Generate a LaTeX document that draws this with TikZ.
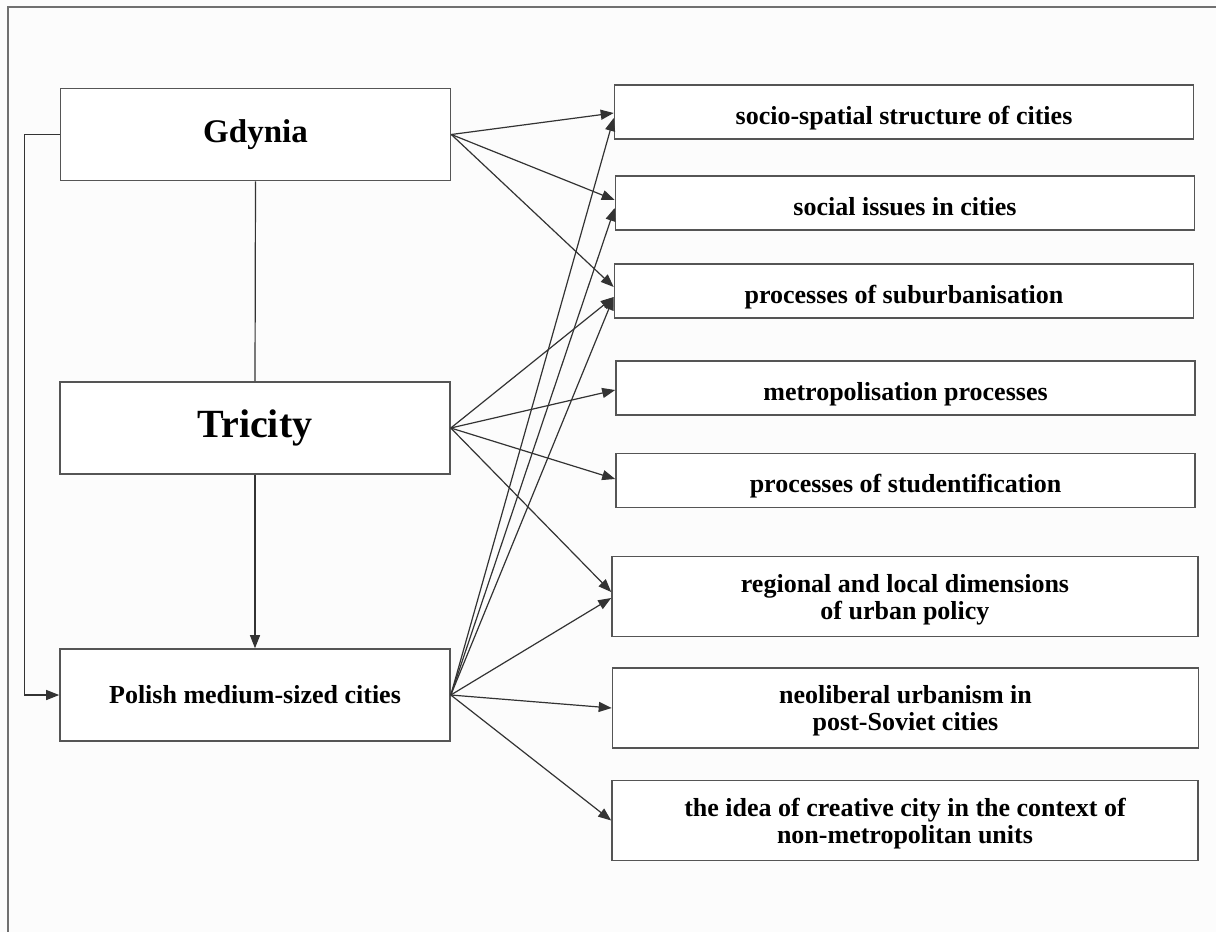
\documentclass[tikz,border=0pt]{standalone}
\usepackage{fontspec}
\setmainfont{Liberation Serif}
\usetikzlibrary{arrows.meta,calc}
\definecolor{framegray}{HTML}{707070}
\definecolor{boxgray}{HTML}{555555}
\definecolor{linkgray}{HTML}{333333}
\definecolor{paper}{HTML}{FCFCFC}
\begin{document}
\begin{tikzpicture}[x=0.5pt,y=-0.5pt,
    place/.style={draw=boxgray,line width=0.8pt,fill=white,inner sep=0pt,
      minimum width=195pt,minimum height=46pt,text=black},
    topic/.style={place,text depth=0pt,align=center,minimum height=27pt,minimum width=289.5pt,
      font=\bfseries\fontsize{13}{13.5}\selectfont},
    oneline/.style={text height=12pt},
    wide/.style={minimum height=40pt,minimum width=293pt},
    link/.style={-{Triangle[length=6.5pt,width=5pt]},linkgray,line width=0.6pt}]
    \fill[paper] (0,0) rectangle (1216,932);
    \useasboundingbox (0,0) rectangle (1216,932);
    \draw[framegray,line width=1pt] (8,932) -- (8,7) -- (1216,7);
    % left column
    \node[place,font=\bfseries\fontsize{16.5}{20}\selectfont] (gdynia) at (255.5,134.5) {Gdynia};
    \node[place,font=\bfseries\fontsize{20}{24}\selectfont] (tricity) at (255,428) {Tricity};
    \node[place,font=\bfseries\fontsize{13}{15}\selectfont] (polish) at (255,695) {Polish medium-sized cities};
    % right column
    \node[topic,oneline] (socio) at (904,112) {socio-spatial structure of cities};
    \node[topic,oneline] (issues) at (905,203) {social issues in cities};
    \node[topic,oneline] (suburb) at (904,291) {processes of suburbanisation};
    \node[topic,oneline] (metro) at (905.5,388) {metropolisation processes};
    \node[topic,oneline] (student) at (905.5,480.5) {processes of studentification};
    \node[topic,wide] (regional) at (905,596.5) {regional and local dimensions\\of urban policy};
    \node[topic,wide] (neolib) at (905.5,708) {neoliberal urbanism in\\post-Soviet cities};
    \node[topic,wide] (creative) at (905,820.5) {the idea of creative city in the context of\\non-metropolitan units};
    % links between the cities
    \draw[linkgray,line width=0.6pt] (gdynia.south) -- (tricity.north);
    \draw[link] (tricity.south) -- (polish.north);
    \draw[link] (gdynia.west) -- ++(-35,0) |- (polish.west);
    % links to the topics
    \draw[link] (gdynia.east) -- ($(socio.west)+(0,1)$);
    \draw[link] (gdynia.east) -- ($(issues.west)+(0,-3)$);
    \draw[link] (gdynia.east) -- ($(suburb.west)+(0,-4)$);
    \draw[link] (tricity.east) -- ($(suburb.west)+(0,6)$);
    \draw[link] (tricity.east) -- ($(metro.west)+(0,2)$);
    \draw[link] (tricity.east) -- ($(student.west)+(0,-1.5)$);
    \draw[link] (tricity.east) -- ($(regional.west)+(0,-4.5)$);
    \draw[link] (polish.east) -- ($(socio.west)+(0,6)$);
    \draw[link] (polish.east) -- ($(issues.west)+(0,5)$);
    \draw[link] (polish.east) -- ($(suburb.west)+(0,6)$);
    \draw[link] (polish.east) -- ($(regional.west)+(0,1.5)$);
    \draw[link] (polish.east) -- (neolib.west);
    \draw[link] (polish.east) -- (creative.west);
\end{tikzpicture}
\end{document}
